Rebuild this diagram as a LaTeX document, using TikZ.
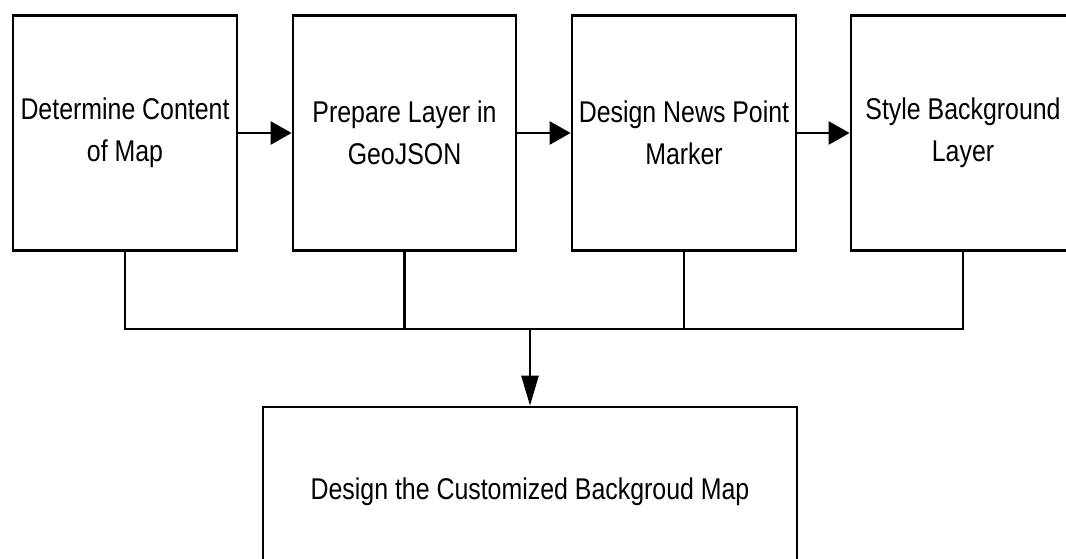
\documentclass[tikz,border=0pt]{standalone}
\usepackage{fontspec}
\setmainfont{Liberation Sans}[FakeStretch=0.83]
\usetikzlibrary{arrows.meta}
\begin{document}
\begin{tikzpicture}[x=1pt,y=-1pt,
  stage/.style={draw, line width=2.8pt, fill=white, align=center,
    minimum width=224pt, minimum height=235pt, inner sep=0pt,
    font=\fontsize{30}{42}\selectfont},
  link/.style={line width=2.6pt},
  sidetip/.style={-{Triangle[length=21pt,width=23pt]}},
  downtip/.style={-{Triangle[length=30pt,width=17pt]}}
]
\useasboundingbox (0,0) rectangle (1066,558);

% top row of steps
\node[stage] (s1) at (125,133)   {Determine Content\\of Map};
\node[stage, minimum width=223pt] (s2) at (404.5,133) {Prepare Layer in\\GeoJSON};
\node[stage] (s3) at (684,133)   {Design News Point\\Marker};
\node[stage] (s4) at (963,133)   {Style Background\\Layer};

% final step
\node[stage, minimum width=534pt, minimum height=170pt] (fin) at (530,492)
  {Design the Customized Backgroud Map};

% arrows between steps
\draw[link, sidetip] (s1) -- (s2);
\draw[link, sidetip] (s2) -- (s3);
\draw[link, sidetip] (s3) -- (s4);

% collecting bus
\coordinate (bus) at (530,329);
\draw[link] (s1.south) -- (s1.south |- bus) -- (s4.south |- bus) -- (s4.south);
\draw[link] (s2.south) -- (s2.south |- bus);
\draw[link] (s3.south) -- (s3.south |- bus);
\draw[link, downtip] (bus) -- (fin.north);
\end{tikzpicture}
\end{document}
